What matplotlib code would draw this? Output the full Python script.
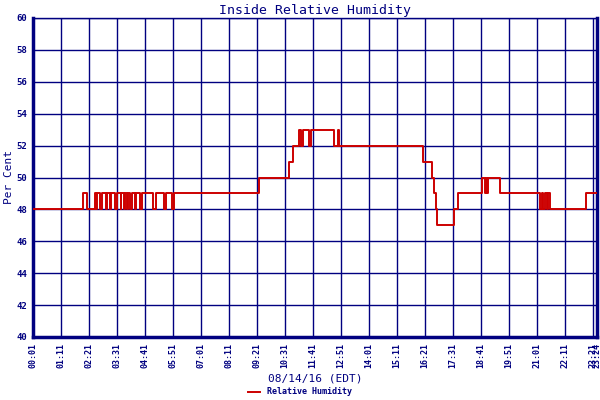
import matplotlib
matplotlib.use("Agg")
import matplotlib.pyplot as plt

# ========================================
# DATA (minute of day, humidity %) - step changes
# ========================================
change_minutes = [
    1, 127, 135, 156, 159, 161, 169, 173, 184, 186, 194, 196, 206, 211,
    220, 222, 228, 230, 236, 238, 244, 249, 256, 258, 269, 274, 301, 309,
    329, 334, 349, 354, 567, 642, 652, 667, 672, 677, 691, 696, 754, 763,
    765, 977, 999, 1004, 1009, 1012, 1054, 1064, 1124, 1131, 1133, 1137,
    1139, 1169, 1269, 1273, 1276, 1281, 1285, 1289, 1294, 1384, 1411,
]
humidity = [
    48, 49, 48, 49, 48, 49, 48, 49, 48, 49, 48, 49, 48, 49,
    48, 49, 48, 49, 48, 49, 48, 49, 48, 49, 48, 49, 48, 49,
    48, 49, 48, 49, 50, 51, 52, 53, 52, 53, 52, 53, 52, 53,
    52, 51, 50, 49, 48, 47, 48, 49, 50, 49, 50, 49,
    50, 49, 48, 49, 48, 49, 48, 49, 48, 49, 49,
]

tick_minutes = [1, 71, 141, 211, 281, 351, 421, 491, 561, 631, 701, 771,
                841, 911, 981, 1051, 1121, 1191, 1261, 1331, 1401, 1411]
tick_labels = ["00:01", "01:11", "02:21", "03:31", "04:41", "05:51", "07:01",
               "08:11", "09:21", "10:31", "11:41", "12:51", "14:01", "15:11",
               "16:21", "17:31", "18:41", "19:51", "21:01", "22:11", "23:21",
               "23:24"]
y_ticks = [40, 42, 44, 46, 48, 50, 52, 54, 56, 58, 60]

NAVY = "#000080"
RED = "#cc0000"
MONO = "DejaVu Sans Mono"

# ========================================
# FIGURE
# ========================================
fig = plt.figure(figsize=(6, 4), dpi=100)
ax = fig.add_axes([0.055, 0.1575, 0.94, 0.7975])

ax.step(change_minutes, humidity, where="post", color=RED,
        linewidth=1.4, label="Relative Humidity", zorder=3)

ax.set_xlim(1, 1411)
ax.set_ylim(40, 60)
ax.set_xticks(tick_minutes)
ax.set_xticklabels(tick_labels, rotation=90, fontsize=6, fontweight="bold",
                   family=MONO, color=NAVY)
ax.set_yticks(y_ticks)
ax.set_yticklabels([str(v) for v in y_ticks], fontsize=6.5,
                   fontweight="bold", family=MONO, color=NAVY)
ax.tick_params(length=0, pad=4)

ax.grid(True, color=NAVY, linewidth=1.0)
for side in ["left", "bottom", "right"]:
    ax.spines[side].set_color(NAVY)
    ax.spines[side].set_linewidth(2.5)
ax.spines["top"].set_color(NAVY)
ax.spines["top"].set_linewidth(1.0)

ax.set_title("Inside Relative Humidity", fontsize=9.5, family=MONO,
             color=NAVY, pad=3)
ax.set_ylabel("Per Cent", fontsize=8, family=MONO, color=NAVY, labelpad=2)
ax.set_xlabel("08/14/16 (EDT)", fontsize=8, family=MONO, color=NAVY,
              labelpad=4)

fig.legend(loc="lower center", bbox_to_anchor=(0.5, -0.01), frameon=False,
           prop={"family": MONO, "size": 6, "weight": "bold"},
           handlelength=1.5, labelcolor=NAVY)

fig.savefig("out.png", dpi=100)
